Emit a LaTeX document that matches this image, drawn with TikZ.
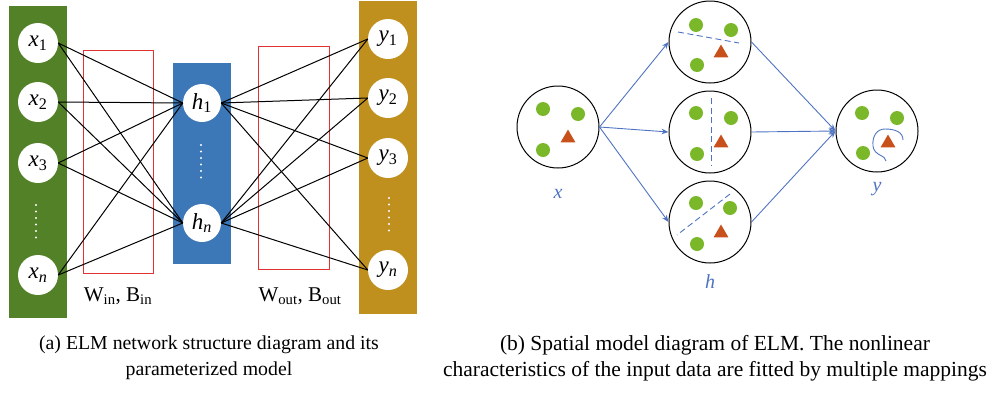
\documentclass[tikz,border=0pt]{standalone}
\usepackage{fontspec}
\setmainfont{Liberation Serif}
\usetikzlibrary{shapes.geometric,arrows.meta}
\definecolor{barGreen}{RGB}{83,129,39}
\definecolor{barBlue}{RGB}{60,120,184}
\definecolor{barGold}{RGB}{192,144,30}
\definecolor{boxRed}{RGB}{226,50,50}
\definecolor{dotGreen}{RGB}{122,184,42}
\definecolor{triOrange}{RGB}{200,80,26}
\definecolor{arrBlue}{RGB}{79,115,194}
\newcommand{\nsub}[2]{\textit{#1}\textsubscript{#2}}
\begin{document}
\begin{tikzpicture}[x=1pt,y=-1pt,
  neuron/.style={circle,fill=white,minimum size=40pt,inner sep=0pt,font=\fontsize{23}{24}\selectfont},
  wbox/.style={draw=boxRed,line width=0.9pt},
  conn/.style={black,line width=1pt},
  whitedots/.style={white,line width=2.2pt,line cap=round,dash pattern=on 0pt off 6.5pt},
  space/.style={circle,draw=black,line width=1pt,minimum size=82pt,inner sep=0pt},
  gdot/.style={circle,fill=dotGreen,minimum size=14pt,inner sep=0pt},
  tri/.style={regular polygon,regular polygon sides=3,fill=triOrange,minimum size=17pt,inner sep=0pt},
  maparrow/.style={arrBlue,line width=0.9pt,-{Stealth[length=7pt,width=5.5pt]}},
  sep/.style={arrBlue,line width=0.9pt,dash pattern=on 6pt off 3.5pt},
  lbl/.style={font=\fontsize{21}{22}\selectfont},
  blbl/.style={text=arrBlue,font=\fontsize{20}{22}\selectfont\itshape},
  captxt/.style={align=center}]
\useasboundingbox (0,0) rectangle (995,394);
% ---------- (a) ----------
\fill[barGreen] (9,6) rectangle (67,318);
\fill[barBlue] (173,63) rectangle (231,264);
\fill[barGold] (359,1) rectangle (417,314);
\draw[wbox] (83,50) rectangle (153,273);
\draw[wbox] (258,46) rectangle (329,269);
\node[neuron] (x1) at (38,43) {\nsub{x}{1}};
\node[neuron] (x2) at (38,102) {\nsub{x}{2}};
\node[neuron] (x3) at (38,163) {\nsub{x}{3}};
\node[neuron] (xn) at (38,275) {\nsub{x}{\textit{n}}};
\node[neuron,minimum size=38pt] (h1) at (202,103) {\nsub{h}{1}};
\node[neuron,minimum size=38pt] (hn) at (202,223) {\nsub{h}{\textit{n}}};
\node[neuron] (y1) at (388,39) {\nsub{y}{1}};
\node[neuron] (y2) at (388,98) {\nsub{y}{2}};
\node[neuron] (y3) at (388,158) {\nsub{y}{3}};
\node[neuron] (yn) at (388,270) {\nsub{y}{\textit{n}}};
\coordinate (xd1) at (36,205); \coordinate (xd2) at (36,238);
\coordinate (hd1) at (201,145); \coordinate (hd2) at (201,180);
\coordinate (yd1) at (389,198); \coordinate (yd2) at (389,232);
\draw[whitedots] (xd1) -- (xd2);
\draw[whitedots] (hd1) -- (hd2);
\draw[whitedots] (yd1) -- (yd2);
\foreach \a in {x1,x2,x3,xn}{
  \foreach \b in {h1,hn}{ \draw[conn] (\a.east) -- (\b.west); } }
\foreach \a in {h1,hn}{
  \foreach \b in {y1,y2,y3,yn}{ \draw[conn] (\a.east) -- (\b.west); } }
\node[lbl] (win) at (118,296) {W\textsubscript{in}, B\textsubscript{in}};
\node[lbl] (wout) at (300,296) {W\textsubscript{out}, B\textsubscript{out}};
\node[captxt,font=\fontsize{19.8}{26}\selectfont] (capa) at (209,358) {(a) ELM network structure diagram and its\\parameterized model};
% ---------- (b) ----------
\node[space] (sx) at (558,127) {};
\node[space] (ht) at (710,42) {};
\node[space] (hm) at (710,132) {};
\node[space] (hb) at (710,222) {};
\node[space] (sy) at (877,131) {};
% points in x
\node[gdot] (xa) at (543,109) {};
\node[gdot] (xb) at (578,114) {};
\node[gdot] (xc) at (543,150) {};
\node[tri] (xt) at (568,138) {};
% top h
\node[gdot] (ta) at (696,25) {};
\node[gdot] (tb) at (731,30) {};
\node[gdot] (tc) at (697,65) {};
\node[tri] (tt) at (721,53) {};
\draw[sep] (678,32) -- (739,43);
% middle h
\node[gdot] (ma) at (696,113) {};
\node[gdot] (mb) at (731,118) {};
\node[gdot] (mc) at (697,154) {};
\node[tri] (mt) at (721,143) {};
\draw[sep] (711,98) -- (711,165);
% bottom h
\node[gdot] (ba) at (696,203) {};
\node[gdot] (bb) at (730,208) {};
\node[gdot] (bc) at (697,244) {};
\node[tri] (bt) at (721,233) {};
\draw[sep] (730,194) -- (677,235);
% y
\node[gdot] (ya) at (862,113) {};
\node[gdot] (yb) at (897,118) {};
\node[gdot] (yc) at (863,153) {};
\node[tri] (yt) at (888,143) {};
\draw[arrBlue,line width=0.9pt] (886,161) .. controls (886,155) and (874,156) .. (873,146)
  .. controls (872,136) and (877,129) .. (885,129) .. controls (895,129) and (903,132) .. (903,140);
% arrows
\draw[maparrow] (sx.east) -- (ht.west);
\draw[maparrow] (sx.east) -- (hm.west);
\draw[maparrow] (sx.east) -- (hb.west);
\draw[maparrow] (ht.east) -- (sy.west);
\draw[maparrow] (hm.east) -- (sy.west);
\draw[maparrow] (hb.east) -- (sy.west);
\node[blbl] (lx) at (558,194) {x};
\node[blbl] (lh) at (710,282) {h};
\node[blbl] (ly) at (877,189) {y};
\node[captxt,font=\fontsize{21.5}{26}\selectfont] (capb) at (715,358) {(b) Spatial model diagram of ELM. The nonlinear\\characteristics of the input data are fitted by multiple mappings};
\end{tikzpicture}
\end{document}
